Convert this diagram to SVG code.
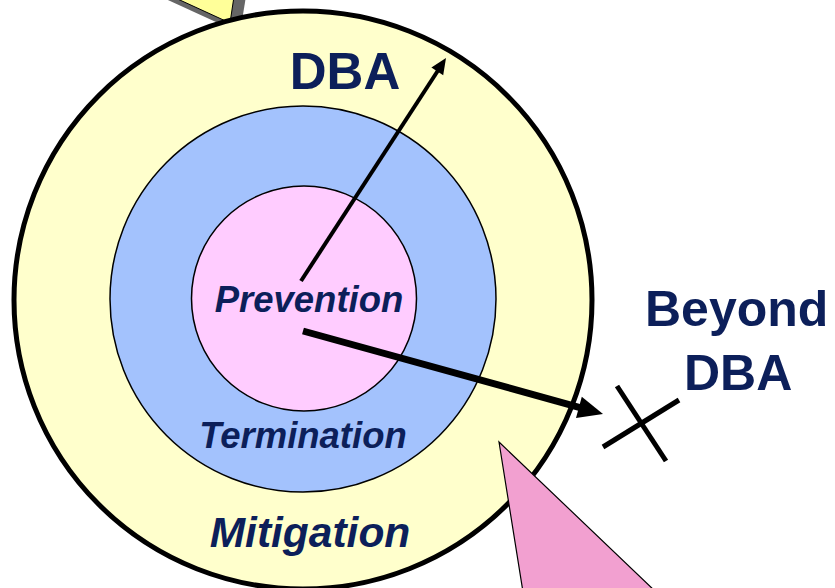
<svg xmlns="http://www.w3.org/2000/svg" width="835" height="588" viewBox="0 0 835 588">
<style>
.lbl{font-family:"Liberation Sans",Arial,sans-serif;font-weight:bold;fill:#0c1f5a}
.it{font-style:italic}
.arr{stroke:#000;fill:none}
.head{fill:#000}
</style>
<rect width="835" height="588" fill="#fff"/>
<g id="callout-top">
<polygon points="146,-10 247,-10 240,33" fill="#666666"/>
<polygon points="158,-10 235,-10 230,23" fill="#ffff99" stroke="#000" stroke-width="1"/>
</g>
<g id="mitigation">
<circle cx="303" cy="300" r="289" fill="#ffffcc" stroke="#000" stroke-width="5"/>
</g>
<g id="termination">
<circle cx="303" cy="299" r="193" fill="#a3c2fd" stroke="#000" stroke-width="1.5"/>
</g>
<g id="prevention">
<circle cx="304" cy="298.5" r="112.5" fill="#ffccff" stroke="#000" stroke-width="1.5"/>
</g>
<g id="callout-bottom">
<polygon points="499,442 523,592 656,592" fill="#f2a0d0" stroke="#000" stroke-width="1.2"/>
</g>
<g id="connectors">
<line class="arr" x1="301" y1="281" x2="438" y2="70.5" stroke-width="4"/>
<polygon class="head" points="446,58 443.2,75.2 431.4,67.6"/>
<line class="arr" x1="303" y1="331" x2="580" y2="407.6" stroke-width="7"/>
<polygon class="head" points="603,414 576,417.9 581.8,396.7"/>
</g>
<g id="cross" stroke="#000" stroke-width="5">
<line x1="617" y1="386" x2="666" y2="461"/>
<line x1="603" y1="447" x2="679" y2="400"/>
</g>
<g id="labels">
<text class="lbl" x="345" y="89" font-size="51" text-anchor="middle">DBA</text>
<text class="lbl it" x="309" y="312" font-size="36.5" text-anchor="middle">Prevention</text>
<text class="lbl it" x="303" y="448" font-size="36.5" text-anchor="middle">Termination</text>
<text class="lbl it" x="310" y="547" font-size="42.5" text-anchor="middle">Mitigation</text>
<text class="lbl" x="645" y="326" font-size="50">Beyond</text>
<text class="lbl" x="684" y="390" font-size="50">DBA</text>
</g>
</svg>
